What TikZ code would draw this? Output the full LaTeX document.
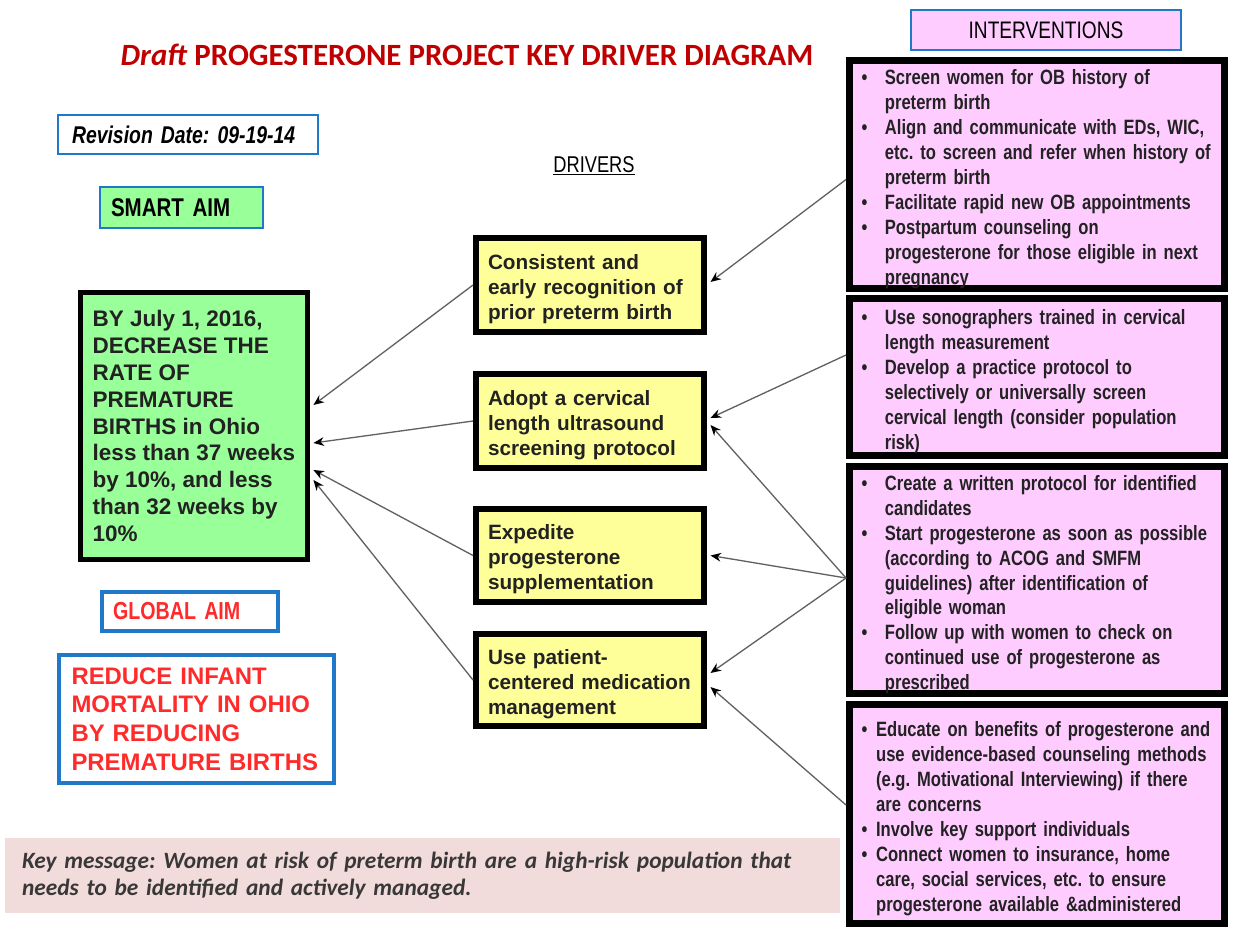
\documentclass[tikz,border=0pt]{standalone}
\usepackage{fontspec}
\setmainfont{Liberation Sans}
\newfontfamily\narrowfont[FakeStretch=0.8,WordSpace=0.85]{Liberation Sans}
\newfontfamily\calfont{Carlito}
\usetikzlibrary{arrows.meta}
\definecolor{aimgreen}{HTML}{99FF99}
\definecolor{drvyellow}{HTML}{FFFF99}
\definecolor{intpink}{HTML}{FFCCFF}
\definecolor{boxblue}{HTML}{1F78C8}
\definecolor{keypink}{HTML}{F2DCDB}
\definecolor{titlered}{HTML}{C00000}
\definecolor{aimred}{HTML}{FF2A2A}
\definecolor{inktext}{HTML}{222222}
\newcommand\lowered[1]{\raisebox{-0.1cm}[\height][\depth]{#1}}
\frenchspacing

\begin{document}
\begin{tikzpicture}[x=0.02cm,y=-0.02cm,
  bluebox/.style={draw=boxblue,line width=1.1pt,inner ysep=0pt,align=left},
  aimbox/.style={draw=black,line width=2.8pt,fill=aimgreen,inner xsep=0.1cm,align=left,
    font=\bfseries\fontsize{12.8}{15.3}\selectfont,text=inktext},
  drvbox/.style={draw=black,line width=3.4pt,fill=drvyellow,minimum width=4.56cm,
    inner xsep=0.24cm,text width=4.08cm,align=left,font=\bfseries\fontsize{11.8}{14.2}\selectfont,text=inktext,
    execute at begin node={\rule{0pt}{13pt}}},
  intbox/.style={draw=black,line width=4pt,fill=intpink,minimum width=7.5cm,inner xsep=0.24cm,
    inner ysep=0pt,text width=7.02cm,align=left,font=\narrowfont\bfseries\fontsize{11.8}{14.2}\selectfont,text=inktext},
  conn/.style={draw=black!62,line width=0.75pt,-{Stealth[length=6pt,width=5pt,color=black]}}]
  \useasboundingbox (0,0) rectangle (1239,930);

  \node (title) at (467,55) {\calfont\bfseries\fontsize{17.6}{20}\selectfont\color{titlered}\textit{Draft} PROGESTERONE PROJECT KEY DRIVER DIAGRAM};
  \node[bluebox,minimum width=5.2cm,minimum height=0.78cm,inner xsep=0.28cm,text width=4.64cm,
    font=\narrowfont\bfseries\itshape\fontsize{13.8}{16}\selectfont] (rev) at (188,134.5) {Revision Date: 09-19-14};
  \node[font=\narrowfont\fontsize{13}{15}\selectfont] (drvlabel) at (594,166) {\underline{DRIVERS}};
  \node[bluebox,fill=aimgreen,minimum width=3.26cm,minimum height=0.82cm,inner xsep=0.22cm,text width=2.82cm,
    font=\narrowfont\bfseries\fontsize{14.6}{16}\selectfont] (smart) at (181.5,207.5) {SMART AIM};

  \node[aimbox,minimum width=4.54cm,minimum height=5.34cm] (aim) at (194,426)
    {BY July 1, 2016,\\DECREASE THE\\RATE OF\\PREMATURE\\BIRTHS in Ohio\\less than 37 weeks\\by 10\%, and less\\than 32 weeks by\\10\%};

  \node[bluebox,line width=2.3pt,minimum width=3.52cm,minimum height=0.78cm,inner xsep=0.22cm,text width=3.08cm,
    text=aimred,font=\narrowfont\bfseries\fontsize{14}{16}\selectfont] (global) at (190,611.5) {GLOBAL AIM};
  \node[bluebox,line width=2.3pt,minimum width=5.5cm,minimum height=2.56cm,inner xsep=0.25cm,text width=5.0cm,
    text=aimred,font=\bfseries\fontsize{13.6}{16.4}\selectfont] (reduce) at (196.5,719)
    {REDUCE INFANT\\MORTALITY IN OHIO\\BY REDUCING\\PREMATURE BIRTHS};

  \node[drvbox,minimum height=1.88cm] (d1) at (590,285) {Consistent and\\early recognition of\\prior preterm birth};
  \node[drvbox,minimum height=1.88cm] (d2) at (590,421) {Adopt a cervical\\length ultrasound\\screening protocol};
  \node[drvbox,minimum height=1.86cm] (d3) at (590,555.5) {Expedite\\progesterone\\supplementation};
  \node[drvbox,minimum height=1.84cm] (d4) at (590,680) {Use patient-\\centered medication\\management};

  \node[bluebox,fill=intpink,minimum width=5.4cm,minimum height=0.8cm,
    font=\narrowfont\fontsize{13.6}{15}\selectfont] (inthead) at (1046,30) {INTERVENTIONS};

  \node[intbox,minimum height=4.56cm] (int1) at (1037,174.5) {\lowered{\begin{tabular}{@{}l@{\hspace{10pt}}l@{}}
    \textbullet & Screen women for OB history of\\ & preterm birth\\
    \textbullet & Align and communicate with EDs, WIC,\\ & etc. to screen and refer when history of\\ & preterm birth\\
    \textbullet & Facilitate rapid new OB appointments\\
    \textbullet & Postpartum counseling on\\ & progesterone for those eligible in next\\ & pregnancy
  \end{tabular}}};
  \node[intbox,minimum height=3.14cm] (int2) at (1037,377) {\lowered{\begin{tabular}{@{}l@{\hspace{10pt}}l@{}}
    \textbullet & Use sonographers trained in cervical\\ & length measurement\\
    \textbullet & Develop a practice protocol to\\ & selectively or universally screen\\ & cervical length (consider population\\ & risk)
  \end{tabular}}};
  \node[intbox,minimum height=4.54cm] (int3) at (1037,580) {\lowered{\begin{tabular}{@{}l@{\hspace{10pt}}l@{}}
    \textbullet & Create a written protocol for identified\\ & candidates\\
    \textbullet & Start progesterone as soon as possible\\ & (according to ACOG and SMFM\\ & guidelines) after identification of\\ & eligible woman\\
    \textbullet & Follow up with women to check on\\ & continued use of progesterone as\\ & prescribed
  \end{tabular}}};
  \node[intbox,minimum height=4.38cm] (int4) at (1037,814) {\lowered{\begin{tabular}{@{}l@{\hspace{5pt}}l@{}}
    \textbullet & Educate on benefits of progesterone and\\ & use evidence-based counseling methods\\ & (e.g. Motivational Interviewing) if there\\ & are concerns\\
    \textbullet & Involve key support individuals\\
    \textbullet & Connect women to insurance, home\\ & care, social services, etc. to ensure\\ & progesterone available \&administered
  \end{tabular}}};

  \node[fill=keypink,minimum width=16.7cm,minimum height=1.5cm,inner xsep=0.34cm,text width=16.02cm,align=left,
    text=black!78,font=\calfont\bfseries\itshape\fontsize{13.3}{15.3}\selectfont] (key) at (422.5,875.5)
    {Key message: Women at risk of preterm birth are a high-risk population that\\needs to be identified and actively managed.};

  \draw[conn] (d1.west) -- ([yshift=0.42cm,xshift=2pt]aim.east);
  \draw[conn] (d2.west) -- ([yshift=-0.34cm,xshift=2pt]aim.east);
  \draw[conn] (d3.west) -- ([yshift=-0.88cm,xshift=2pt]aim.east);
  \draw[conn] (d4.west) -- ([yshift=-1.08cm,xshift=2pt]aim.east);

  \draw[conn] ([yshift=-0.1cm]int1.west) -- ([yshift=0.06cm,xshift=2pt]d1.east);
  \draw[conn] ([yshift=0.44cm]int2.west) -- ([yshift=0.06cm,xshift=2pt]d2.east);
  \draw[conn] ([yshift=0.04cm]int3.west) -- ([yshift=-0.08cm,xshift=2pt]d2.east);
  \draw[conn] ([yshift=0.04cm]int3.west) -- ([xshift=2pt]d3.east);
  \draw[conn] ([yshift=0.04cm]int3.west) -- ([yshift=0.14cm,xshift=2pt]d4.east);
  \draw[conn] ([yshift=0.18cm]int4.west) -- ([yshift=-0.14cm,xshift=2pt]d4.east);
\end{tikzpicture}
\end{document}
